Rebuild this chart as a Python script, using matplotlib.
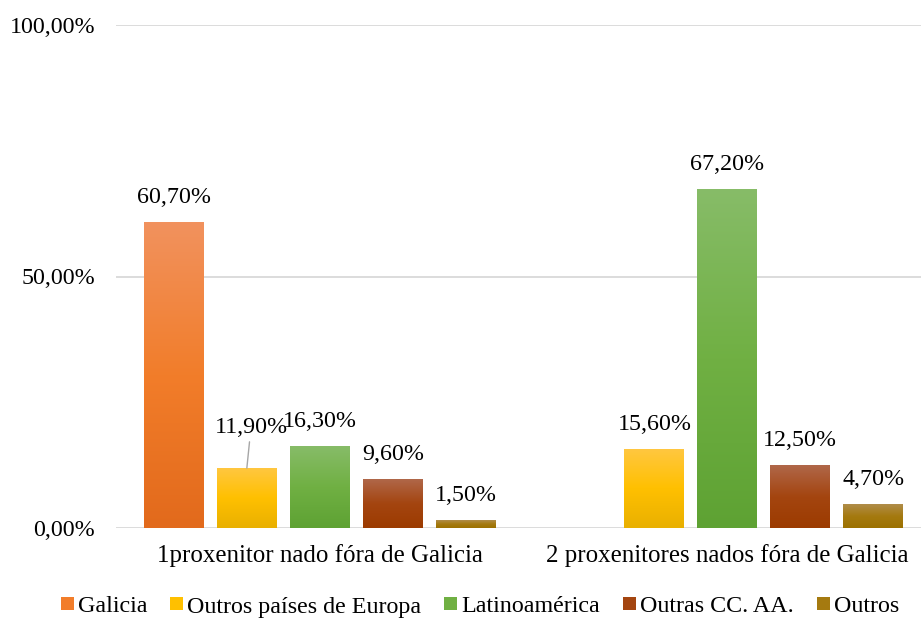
import numpy as np
import matplotlib
matplotlib.use("Agg")
import matplotlib.pyplot as plt
from matplotlib.colors import LinearSegmentedColormap

plt.rcParams['font.family'] = ['Liberation Serif', 'DejaVu Serif']

# ============================================================================
# DATA
# ============================================================================

categories = ["1proxenitor nado fóra de Galicia",
              "2 proxenitores nados fóra de Galicia"]
series = ["Galicia", "Outros países de Europa", "Latinoamérica",
          "Outras CC. AA.", "Outros"]

galicia = [60.7, np.nan]
europa = [11.9, 15.6]
latam = [16.3, 67.2]
ccaa = [9.6, 12.5]
outros = [1.5, 4.7]

yticks = [0, 50, 100]

# ============================================================================
# STYLE
# ============================================================================

# (top, middle, bottom) colours of each gradient bar
gradients = [
    ("#F1925E", "#F27D2A", "#E26A1C"),
    ("#FFC740", "#FFC000", "#E9B000"),
    ("#87BC68", "#70B043", "#5EA233"),
    ("#B06749", "#A44510", "#9C3B00"),
    ("#B08D4A", "#A57A10", "#9C7100"),
]
FS = 17.3
bar_w = 0.147
step = 0.179

fig = plt.figure(figsize=(9.21, 6.19), dpi=100)
ax = fig.add_axes([116 / 921, 1 - 528 / 619, 805 / 921, 503 / 619])

x = np.arange(len(categories))
all_vals = [galicia, europa, latam, ccaa, outros]
legend_handles = []

for i, (name, vals, cols) in enumerate(zip(series, all_vals, gradients)):
    pos = x + (i - 2) * step
    bars = ax.bar(pos, vals, width=bar_w, color=cols[1], zorder=2, label=name,
                  linewidth=0)
    cmap = LinearSegmentedColormap.from_list(name, [cols[2], cols[1], cols[0]])
    grad = np.linspace(0, 1, 256).reshape(-1, 1)
    for j, rect in enumerate(bars):
        h = rect.get_height()
        if np.isnan(h) or h == 0:
            continue
        x0 = rect.get_x()
        ax.imshow(grad, aspect="auto", cmap=cmap, origin="lower",
                  extent=(x0, x0 + rect.get_width(), 0, h), zorder=2.5,
                  clip_path=rect)
        label = f"{h:.2f}".replace(".", ",") + "%"
        if i == 1 and j == 0:
            # label pushed up with a leader line
            ax.annotate(label, xy=(rect.get_x() + rect.get_width() / 2, h),
                        xytext=(3, 29.5), textcoords="offset points",
                        ha="center", va="center", fontsize=FS, zorder=4,
                        arrowprops=dict(arrowstyle="-", color="#A6A6A6",
                                        lw=1, shrinkA=1, shrinkB=0))
        else:
            ax.annotate(label, xy=(rect.get_x() + rect.get_width() / 2, h),
                        xytext=(0, 18), textcoords="offset points",
                        ha="center", va="center", fontsize=FS, zorder=4)

ax.set_xlim(-0.5, 1.475)
ax.set_ylim(0, 100)
ax.set_yticks(yticks)
ax.set_yticklabels([f"{t:.2f}".replace(".", ",") + "%" for t in yticks],
                   fontsize=FS)
ax.set_xticks(x)
ax.set_xticklabels(categories, fontsize=17.9)
ax.tick_params(axis="both", length=0)
ax.tick_params(axis="y", pad=15)
ax.tick_params(axis="x", pad=11.5)
ax.grid(axis="y", color="#D9D9D9", linewidth=1.3, zorder=0)
ax.set_axisbelow(True)
for sp in ax.spines.values():
    sp.set_visible(False)

handles, labels = ax.get_legend_handles_labels()
fig.legend(handles, labels, loc="center", bbox_to_anchor=(480 / 921, 1 - 607 / 619),
           ncol=5, frameon=False, fontsize=FS, handlelength=0.54,
           handleheight=0.46, handletextpad=0.17, columnspacing=0.95,
           borderaxespad=0, borderpad=0)

fig.savefig("out.png", dpi=100)
plt.close(fig)
